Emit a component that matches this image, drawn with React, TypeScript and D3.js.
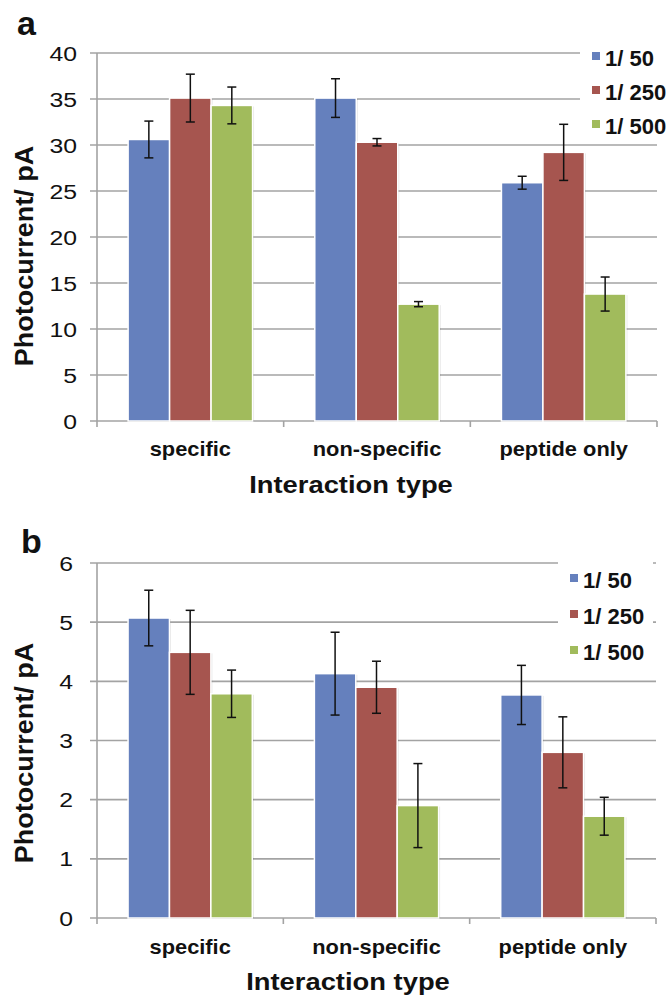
import React, { useEffect, useRef } from 'react'
import * as d3 from 'd3'

const categories = ['specific', 'non-specific', 'peptide only']
const seriesNames = ['1/ 50', '1/ 250', '1/ 500']
const seriesColors = ['#6580bd', '#a6554f', '#a1bb5c']

// panel a values (pA) and error bars
const a50 = [30.6, 35.1, 25.9]
const a250 = [35.1, 30.3, 29.2]
const a500 = [34.3, 12.7, 13.8]
const a50Err = [2.0, 2.1, 0.7]
const a250Err = [2.6, 0.4, 3.05]
const a500Err = [2.0, 0.28, 1.85]
const aTicks = [0, 5, 10, 15, 20, 25, 30, 35, 40]

// panel b values (pA) and error bars
const b50 = [5.07, 4.13, 3.77]
const b250 = [4.49, 3.9, 2.8]
const b500 = [3.79, 1.9, 1.72]
const b50Err = [0.47, 0.7, 0.5]
const b250Err = [0.71, 0.44, 0.6]
const b500Err = [0.4, 0.71, 0.32]
const bTicks = [0, 1, 2, 3, 4, 5, 6]

const FONT = "'Liberation Sans', Arial, sans-serif"

// the original's text is drawn a bit wide, so stretch it horizontally
function label(g, x, y, sx, size, bold, anchor, txt) {
  return g
    .append('text')
    .attr('transform', `translate(${x},${y}) scale(${sx},1)`)
    .attr('text-anchor', anchor)
    .attr('font-family', FONT)
    .attr('font-weight', bold ? 'bold' : 'normal')
    .attr('font-size', size)
    .attr('fill', '#111')
    .text(txt)
}

function drawPanel(svg, p) {
  const g = svg.append('g')

  const x0 = d3.scaleBand().domain(categories).range([p.left, p.right])
  const x1 = d3
    .scaleBand()
    .domain(seriesNames)
    .range([0, x0.bandwidth()])
    .paddingInner(0)
    .paddingOuter(0.75)
  const y = d3
    .scaleLinear()
    .domain([0, d3.max(p.ticks)])
    .range([p.bottom, p.top])

  // gridlines + tick marks
  g.selectAll('.grid')
    .data(p.ticks)
    .enter()
    .append('line')
    .attr('x1', p.left - 7)
    .attr('x2', p.right)
    .attr('y1', d => y(d))
    .attr('y2', d => y(d))
    .attr('stroke', '#a3a3a3')
    .attr('stroke-width', 1.6)

  // y axis line
  g.append('line')
    .attr('x1', p.left)
    .attr('x2', p.left)
    .attr('y1', y(d3.max(p.ticks)))
    .attr('y2', p.bottom)
    .attr('stroke', '#a3a3a3')
    .attr('stroke-width', 1.6)

  // x axis ticks at category boundaries
  const bounds = categories.map(c => x0(c)).concat([p.right])
  g.selectAll('.xtick')
    .data(bounds)
    .enter()
    .append('line')
    .attr('x1', d => d)
    .attr('x2', d => d)
    .attr('y1', p.bottom)
    .attr('y2', p.bottom + 6)
    .attr('stroke', '#a3a3a3')
    .attr('stroke-width', 1.6)

  // tick labels
  p.ticks.forEach(t => {
    label(g, p.labelX, y(t) + 7.5, 1.18, 21, false, 'end', t)
  })

  categories.forEach(c => {
    label(g, x0(c) + x0.bandwidth() / 2, p.catY, 1.12, 19.5, true, 'middle', c)
  })

  // legend (white box over gridlines)
  g.append('rect')
    .attr('x', p.legend.x)
    .attr('y', p.legend.y)
    .attr('width', p.legend.w)
    .attr('height', p.legend.h)
    .attr('fill', '#fff')

  seriesNames.forEach((s, i) => {
    const by = p.legend.first + i * p.legend.step
    g.append('rect')
      .attr('x', p.legend.sq)
      .attr('y', by - 14)
      .attr('width', 8)
      .attr('height', 8)
      .attr('fill', seriesColors[i])
    label(g, p.legend.sq + 13, by, 1, 22, true, 'start', s)
  })

  // bars
  const rows = []
  categories.forEach((c, ci) => {
    seriesNames.forEach((s, si) => {
      rows.push({ c, s, si, v: p.values[si][ci], e: p.errors[si][ci] })
    })
  })

  const bars = g
    .selectAll('.bar')
    .data(rows)
    .enter()
    .append('g')
    .attr('transform', d => `translate(${x0(d.c) + x1(d.s)},0)`)

  bars
    .append('rect')
    .attr('x', 1.5)
    .attr('y', d => y(d.v) + 1)
    .attr('width', x1.bandwidth())
    .attr('height', d => p.bottom - y(d.v) - 1)
    .attr('fill', '#000')
    .attr('opacity', 0.1)

  bars
    .append('rect')
    .attr('x', 0)
    .attr('y', d => y(d.v))
    .attr('width', x1.bandwidth())
    .attr('height', d => p.bottom - y(d.v))
    .attr('fill', d => seriesColors[d.si])
    .attr('stroke', '#fff')
    .attr('stroke-width', 1.5)

  // error bars
  const cx = x1.bandwidth() / 2
  bars
    .append('line')
    .attr('x1', cx)
    .attr('x2', cx)
    .attr('y1', d => y(d.v + d.e))
    .attr('y2', d => y(d.v - d.e))
    .attr('stroke', '#111')
    .attr('stroke-width', 1.5)
  ;[1, -1].forEach(sign => {
    bars
      .append('line')
      .attr('x1', cx - 4.5)
      .attr('x2', cx + 4.5)
      .attr('y1', d => y(d.v + sign * d.e))
      .attr('y2', d => y(d.v + sign * d.e))
      .attr('stroke', '#111')
      .attr('stroke-width', 1.5)
  })

  // axis titles
  g.append('text')
    .attr('transform', `translate(${p.yTitle.x},${p.yTitle.y}) rotate(-90) scale(1.08,1)`)
    .attr('text-anchor', 'middle')
    .attr('font-family', FONT)
    .attr('font-weight', 'bold')
    .attr('font-size', 25)
    .attr('fill', '#111')
    .text('Photocurrent/ pA')

  label(g, p.xTitle.x, p.xTitle.y, 1.14, 24, true, 'middle', 'Interaction type')

  // panel letter
  label(g, p.letter.x, p.letter.y, 1, 34, true, 'start', p.letter.t)
}

export default function App() {
  const ref = useRef(null)

  useEffect(() => {
    const svg = d3.select(ref.current)
    svg.selectAll('*').remove()

    drawPanel(svg, {
      left: 97,
      right: 657,
      top: 53,
      bottom: 421,
      ticks: aTicks,
      values: [a50, a250, a500],
      errors: [a50Err, a250Err, a500Err],
      labelX: 77,
      catY: 456,
      yTitle: { x: 33, y: 256 },
      xTitle: { x: 351, y: 493 },
      letter: { x: 17, y: 35, t: 'a' },
      legend: { x: 580, y: 36, w: 87, h: 104, sq: 592, first: 66, step: 34 }
    })

    drawPanel(svg, {
      left: 97,
      right: 656,
      top: 563,
      bottom: 918,
      ticks: bTicks,
      values: [b50, b250, b500],
      errors: [b50Err, b250Err, b500Err],
      labelX: 73,
      catY: 954,
      yTitle: { x: 33, y: 753 },
      xTitle: { x: 348, y: 990 },
      letter: { x: 21, y: 553, t: 'b' },
      legend: { x: 558, y: 556, w: 95, h: 116, sq: 570, first: 588, step: 36 }
    })
  }, [])

  return (
    <svg
      ref={ref}
      width={667}
      height={997}
      style={{ position: 'absolute', left: 0, top: 0, background: '#fff' }}
    />
  )
}
